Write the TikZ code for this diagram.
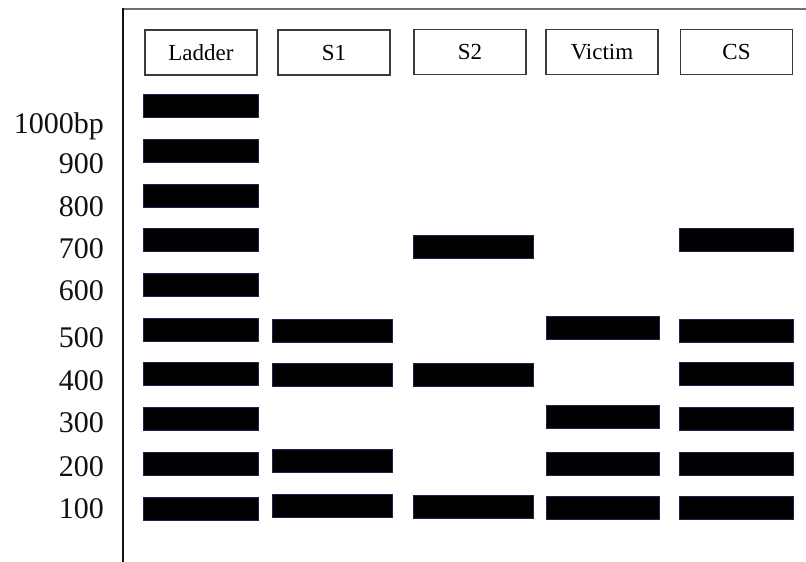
\documentclass[tikz,border=0pt]{standalone}
\usepackage{fontspec}
\setmainfont{Liberation Serif}
\usepackage{tikz}
\usepackage{xcolor}
\usetikzlibrary{positioning,calc}
\definecolor{ink}{HTML}{111111}
\definecolor{frame}{HTML}{3A3A3A}
\definecolor{topgray}{HTML}{707070}
\definecolor{bandblue}{HTML}{1C2550}
\tikzset{
  lanebox/.style={draw=frame,fill=white,line width=1.1pt,
                  minimum width=112pt,minimum height=45pt,
                  inner sep=0pt,align=center,
                  font=\fontsize{23}{23}\selectfont},
  band/.style={draw=bandblue,fill=black,line width=0.8pt,
               minimum height=23pt,inner sep=0pt},
  sizelabel/.style={anchor=base east,inner sep=0pt,text=ink,
                    font=\fontsize{30}{30}\selectfont}
}
\begin{document}
\begin{tikzpicture}[x=1pt,y=-1pt]
  \useasboundingbox (0,0) rectangle (806,562);

  % gel frame
  \coordinate (axtop) at (123,8);
  \coordinate (axbot) at (123,562);
  \coordinate (topend) at (806,9);
  \draw[topgray,line width=1.2pt] (axtop) ++(0,1) -- (topend);
  \draw[ink,line width=2.2pt] (axtop) -- (axbot);

  % lane headers
  \node[lanebox] (ladder) at (201,52.5) {Ladder};
  \node[lanebox] (s1) at (334,52.5) {S1};
  \node[lanebox] (s2) at (470,52) {S2};
  \node[lanebox] (victim) at (602,52) {Victim};
  \node[lanebox] (cs) at (736.5,52) {CS};

  % size labels
  \node[sizelabel] (l1000) at (104,133) {1000bp};
  \node[sizelabel] (l900) at (104,173) {900};
  \node[sizelabel] (l800) at (104,216) {800};
  \node[sizelabel] (l700) at (104,258) {700};
  \node[sizelabel] (l600) at (104,300) {600};
  \node[sizelabel] (l500) at (104,347) {500};
  \node[sizelabel] (l400) at (104,390) {400};
  \node[sizelabel] (l300) at (104,432) {300};
  \node[sizelabel] (l200) at (104,476) {200};
  \node[sizelabel] (l100) at (104,518) {100};

  % bands
  \foreach \bp/\y in {1000/106,900/151,800/196,700/240,600/285,
                      500/330,400/374,300/419,200/464,100/509}
    \node[band,minimum width=115pt] (lad\bp) at (200.5,\y) {};
  \foreach \bp/\y in {500/331,400/375,200/461,100/506}
    \node[band,minimum width=120pt] (sa\bp) at (332,\y) {};
  \foreach \bp/\y in {700/247,400/375,100/507}
    \node[band,minimum width=120pt] (sb\bp) at (473,\y) {};
  \foreach \bp/\y in {500/328,300/417,200/464,100/508}
    \node[band,minimum width=113pt] (vic\bp) at (602.5,\y) {};
  \foreach \bp/\y in {700/240,500/331,400/374,300/419,200/464,100/508}
    \node[band,minimum width=114pt] (cs\bp) at (736,\y) {};
\end{tikzpicture}
\end{document}
